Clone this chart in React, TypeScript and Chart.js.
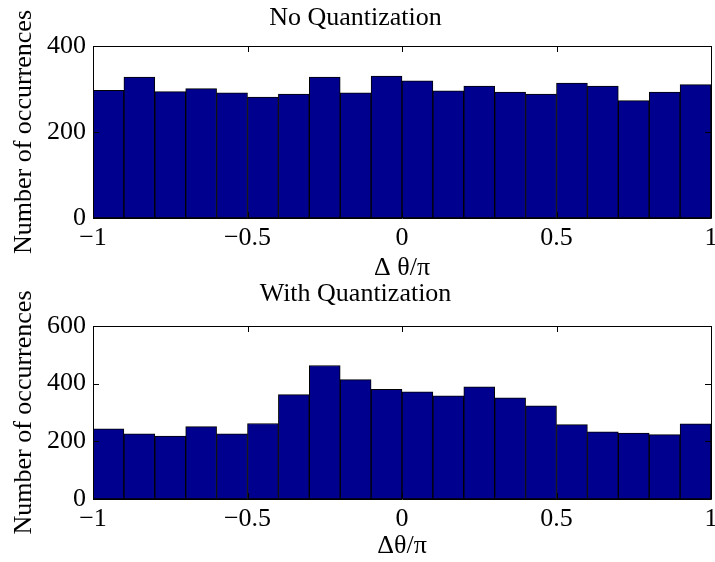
import React, { useEffect, useRef } from "react";
import { Chart, registerables } from "chart.js";

Chart.register(...registerables);

// Histogram bin centres over Δθ/π ∈ [-1, 1], 20 bins of width 0.1
const binCenters = [
  -0.95, -0.85, -0.75, -0.65, -0.55, -0.45, -0.35, -0.25, -0.15, -0.05,
  0.05, 0.15, 0.25, 0.35, 0.45, 0.55, 0.65, 0.75, 0.85, 0.95,
];

// Counts per bin without quantization
const noQuantCounts = [
  297, 328, 294, 301, 291, 281, 288, 328, 291, 330,
  319, 296, 307, 293, 288, 314, 307, 273, 293, 310,
];

// Counts per bin with quantization
const withQuantCounts = [
  243, 226, 218, 251, 226, 262, 362, 463, 414, 380,
  372, 358, 389, 351, 323, 258, 233, 229, 223, 261,
];

const xTickValues = [-1, -0.5, 0, 0.5, 1];
const topYMax = 400;
const bottomYMax = 600;
const yStep = 200;

const FONT = "'Liberation Serif', 'Times New Roman', serif";
const BAR_COLOR = "#00008f";

// Draws the closed axes box and MATLAB-style inward tick marks on all sides
const boxTicksPlugin = {
  id: "boxTicks",
  afterDraw(chart: any) {
    const { ctx, chartArea } = chart;
    const { left, right, top, bottom } = chartArea;
    const len = 6;
    ctx.save();
    ctx.strokeStyle = "#000";
    ctx.lineWidth = 1;
    const px = (v: number) => Math.round(v) + 0.5;
    ctx.beginPath();
    ctx.rect(px(left), px(top), Math.round(right) - Math.round(left), Math.round(bottom) - Math.round(top));
    ctx.stroke();
    ctx.beginPath();
    const xs = chart.scales.x;
    xs.ticks.forEach((t: any) => {
      const x = px(xs.getPixelForValue(t.value));
      ctx.moveTo(x, bottom);
      ctx.lineTo(x, bottom - len);
      ctx.moveTo(x, top);
      ctx.lineTo(x, top + len);
    });
    const ys = chart.scales.y;
    ys.ticks.forEach((t: any) => {
      const y = px(ys.getPixelForValue(t.value));
      ctx.moveTo(left, y);
      ctx.lineTo(left + len, y);
      ctx.moveTo(right, y);
      ctx.lineTo(right - len, y);
    });
    ctx.stroke();
    ctx.restore();
  },
};

type PanelProps = {
  title: string;
  xTitle: string;
  values: number[];
  yMax: number;
  titlePadTop: number;
  titlePadBottom: number;
  xTitlePadBottom: number;
};

const fmtTick = (v: number | string) => {
  const n = Number(v);
  return n < 0 ? "\u2212" + String(-n) : String(n);
};

function Histogram(props: PanelProps) {
  const ref = useRef<HTMLCanvasElement | null>(null);
  useEffect(() => {
    if (!ref.current) return;
    const chart = new Chart(ref.current, {
      type: "bar",
      data: {
        datasets: [
          {
            data: binCenters.map((c, i) => ({ x: c, y: props.values[i] })),
            backgroundColor: BAR_COLOR,
            borderColor: "#000",
            borderWidth: 1,
            borderSkipped: false,
            barPercentage: 1,
            categoryPercentage: 1,
          },
        ],
      },
      options: {
        responsive: false,
        animation: false,
        events: [],
        layout: { padding: { left: 0, right: 4, top: 0, bottom: 0 } },
        plugins: {
          legend: { display: false },
          tooltip: { enabled: false },
          title: {
            display: true,
            text: props.title,
            color: "#000",
            font: { family: FONT, size: 26, weight: "normal", lineHeight: 1 },
            padding: { top: props.titlePadTop, bottom: props.titlePadBottom },
          },
        },
        scales: {
          x: {
            type: "linear",
            min: -1,
            max: 1,
            offset: false,
            afterBuildTicks: (s: any) => {
              s.ticks = xTickValues.map((v) => ({ value: v }));
            },
            afterFit: (s: any) => {
              s.height = 63;
              s.paddingLeft = 0;
              s.paddingRight = 0;
            },
            grid: { display: false, drawTicks: false },
            border: { display: false },
            ticks: {
              color: "#000",
              padding: 7,
              maxRotation: 0,
              autoSkip: false,
              font: { family: FONT, size: 26, lineHeight: 1 },
              callback: (v: any) => fmtTick(v),
            },
            title: {
              display: true,
              text: props.xTitle,
              color: "#000",
              font: { family: FONT, size: 26, lineHeight: 1 },
              padding: { top: 0, bottom: props.xTitlePadBottom },
            },
          },
          y: {
            min: 0,
            max: props.yMax,
            afterFit: (s: any) => {
              s.width = 93;
              s.paddingTop = 0;
              s.paddingBottom = 0;
            },
            grid: { display: false, drawTicks: false },
            border: { display: false },
            ticks: {
              stepSize: yStep,
              color: "#000",
              padding: 7,
              font: { family: FONT, size: 26, lineHeight: 1 },
              callback: (v: any) => fmtTick(v),
            },
            title: {
              display: true,
              text: "Number of occurrences",
              color: "#000",
              font: { family: FONT, size: 26, lineHeight: 1 },
              padding: { top: 11, bottom: 0 },
            },
          },
        },
      },
      plugins: [boxTicksPlugin],
    } as any);
    return () => chart.destroy();
  }, []);
  return <canvas ref={ref} width={715} height={281} style={{ display: "block" }} />;
}

export default function App() {
  return (
    <div style={{ position: "absolute", left: 0, top: 0, width: 715, height: 562, background: "#fff" }}>
      <Histogram
        title="No Quantization"
        xTitle="Δ θ/π"
        values={noQuantCounts}
        yMax={topYMax}
        titlePadTop={5}
        titlePadBottom={15}
        xTitlePadBottom={0}
      />
      <Histogram
        title="With Quantization"
        xTitle="Δθ/π"
        values={withQuantCounts}
        yMax={bottomYMax}
        titlePadTop={0}
        titlePadBottom={19}
        xTitlePadBottom={3}
      />
    </div>
  );
}
